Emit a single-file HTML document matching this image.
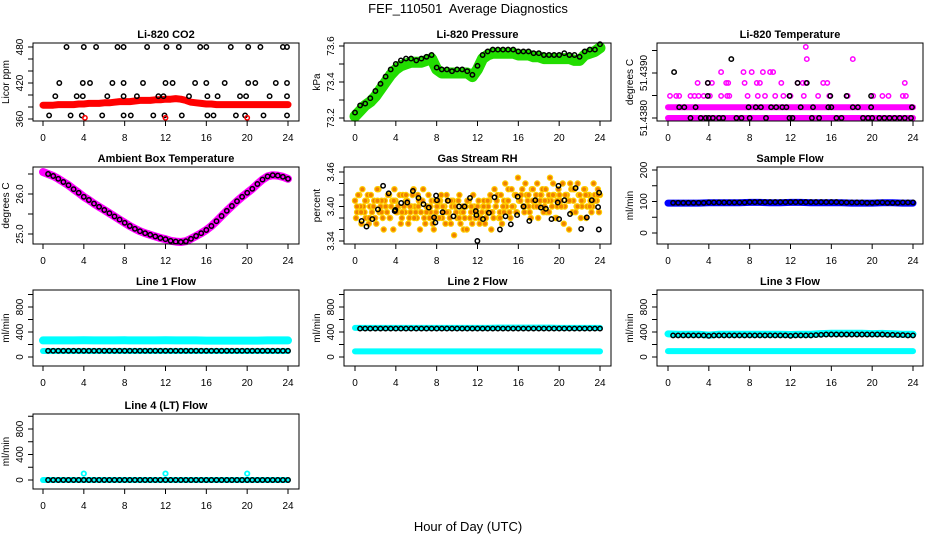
<!DOCTYPE html>
<html><head><meta charset="utf-8"><style>
html,body{margin:0;padding:0;background:#fff;}
svg{display:block;font-family:"Liberation Sans",Arial,sans-serif;}
</style></head><body>
<svg id="fig" width="936" height="540" viewBox="0 0 936 540" xmlns="http://www.w3.org/2000/svg">
<rect width="936" height="540" fill="#fff"/>
<text x="468" y="13" font-size="13" text-anchor="middle" style="white-space:pre">FEF_110501&#160; Average Diagnostics</text>
<text x="468" y="531" font-size="13" text-anchor="middle">Hour of Day (UTC)</text>
</svg>
<script>
// ---------- data ----------
const HH = [0,0.5,1,1.5,2,2.5,3,3.5,4,4.5,5,5.5,6,6.5,7,7.5,8,8.5,9,9.5,10,10.5,11,11.5,12,12.5,13,13.5,14,14.5,15,15.5,16,16.5,17,17.5,18,18.5,19,19.5,20,20.5,21,21.5,22,22.5,23,23.5,24];
const HR = [0,1,2,3,4,5,6,7,8,9,10,11,12,13,14,15,16,17,18,19,20,21,22,23,24];
const xTicks = [0,4,8,12,16,20,24];

const co2Red = [383,383,383,384,384,384,384,385,385,386,386,386,387,387,388,389,389,389,390,391,391,391,392,392,393,393,394,393,391,388,387,386,385,385,384,384,384,384,384,384,384,384,384,384,384,384,384,384,384];
const co2BlackHours = [2.3,4.0,5.2,7.3,7.9,10.2,12.1,13.3,15.4,16.0,18.4,20.1,21.3,23.5,23.9, 1.6,3.9,4.6,6.8,7.9,9.8,12.0,12.7,14.9,16.0,17.8,20.1,20.8,22.8,23.9, 1.2,3.3,3.9,6.3,7.9,9.2,11.3,11.8,14.3,16.1,17.1,19.3,19.9,22.2,23.9, 0.6,2.7,3.8,5.8,7.9,8.6,10.8,11.9,13.6,16.1,16.7,18.9,19.8,21.6,23.9];
const co2BlackVals = [480,480,480,480,480,480,480,480,480,480,480,480,480,480,480, 420,420,420,420,420,420,420,420,420,420,420,420,420,420,420, 398,398,398,398,398,398,398,398,398,398,398,398,398,398,398, 366,366,366,366,366,366,366,366,366,366,366,366,366,366,366];
const co2RedOutHours = [4.1,12.0,20.0];
const co2RedOutVals = [362,362,362];

const presGreen = [73.21,73.24,73.27,73.29,73.32,73.36,73.40,73.44,73.47,73.49,73.50,73.51,73.51,73.51,73.52,73.53,73.47,73.45,73.45,73.45,73.45,73.45,73.45,73.43,73.47,73.53,73.55,73.56,73.56,73.56,73.56,73.56,73.55,73.55,73.55,73.54,73.54,73.53,73.53,73.53,73.53,73.53,73.53,73.52,73.52,73.55,73.56,73.57,73.59];
const presBlack = [73.23,73.27,73.28,73.31,73.35,73.39,73.43,73.47,73.50,73.52,73.53,73.53,73.52,73.53,73.54,73.55,73.48,73.47,73.47,73.46,73.47,73.47,73.46,73.44,73.49,73.55,73.57,73.58,73.58,73.58,73.58,73.58,73.57,73.57,73.57,73.56,73.56,73.55,73.55,73.55,73.55,73.56,73.55,73.55,73.54,73.57,73.58,73.58,73.61];

const tLow = [51.4380,51.4380];
const tMid = [51.43824,51.43824];
const tSpan = [0,24];
const tMagHours = [0.2,0.8,1.1,2.2,2.6,3.0,3.5,4.1,5.2,5.8,6.0,7.8,8.8,9.5,10.5,11.3,12.0,13.3,14.7,15.8,17.6,20.1,21.0,21.6,23.0,23.3, 2.9,3.9,4.3,5.7,5.9,7.5,8.7,9.0,11.1,12.7,13.2,13.5,15.2,15.6,23.2, 5.2,7.4,8.2,9.3,10.0,10.3, 13.6,18.1, 13.5];
const tMagVals = [51.43849,51.43849,51.43849,51.43849,51.43849,51.43849,51.43849,51.43849,51.43849,51.43849,51.43849,51.43849,51.43849,51.43849,51.43849,51.43849,51.43849,51.43849,51.43849,51.43849,51.43849,51.43849,51.43849,51.43849,51.43849,51.43849, 51.43878,51.43878,51.43878,51.43878,51.43878,51.43878,51.43878,51.43878,51.43878,51.43878,51.43878,51.43878,51.43878,51.43878,51.43878, 51.43902,51.43902,51.43902,51.43902,51.43902,51.43902, 51.43931,51.43931, 51.43958];
const tBlackHours = [2.2,3.2,3.7,4.0,4.4,5.0,5.4,6.7,7.2,8.0,9.6,11.9,12.2,14.1,14.8,16.5,17.0,19.1,19.6,20.0,20.7,21.2,21.7,22.2,22.7,23.2,23.8, 1.1,1.6,2.7,7.9,8.6,9.1,10.1,10.6,11.2,11.6,13.0,14.2,15.7,16.0,18.1,18.6,19.9,23.9, 3.9,11.9,15.9,17.5,19.9, 3.9,12.7,13.6, 0.6, 6.2];
const tBlackVals = [51.4380,51.4380,51.4380,51.4380,51.4380,51.4380,51.4380,51.4380,51.4380,51.4380,51.4380,51.4380,51.4380,51.4380,51.4380,51.4380,51.4380,51.4380,51.4380,51.4380,51.4380,51.4380,51.4380,51.4380,51.4380,51.4380,51.4380, 51.43824,51.43824,51.43824,51.43824,51.43824,51.43824,51.43824,51.43824,51.43824,51.43824,51.43824,51.43824,51.43824,51.43824,51.43824,51.43824,51.43824,51.43824, 51.43849,51.43849,51.43849,51.43849,51.43849, 51.43878,51.43878,51.43878, 51.43902, 51.43931];

const ambTemp = [26.55,26.5,26.45,26.38,26.3,26.22,26.12,26.03,25.93,25.85,25.76,25.68,25.6,25.52,25.44,25.36,25.28,25.2,25.13,25.07,25.02,24.98,24.94,24.9,24.87,24.83,24.81,24.8,24.82,24.88,24.95,25.02,25.1,25.2,25.32,25.45,25.58,25.7,25.82,25.93,26.03,26.13,26.25,26.36,26.44,26.47,26.46,26.43,26.38];

const rhA = [3.41,3.39,3.42,3.37,3.40,3.38,3.42,3.40,3.39,3.41,3.37,3.43,3.40,3.38,3.41,3.39,3.42,3.40,3.36,3.41,3.39,3.42,3.38,3.40,3.41,3.37,3.39,3.42,3.40,3.38,3.41,3.39,3.43,3.37,3.40,3.38,3.41,3.36,3.39,3.40,3.41,3.38,3.40,3.42,3.39,3.37,3.41,3.40,3.38,3.42,3.39,3.36,3.40,3.41,3.38,3.37,3.40,3.39,3.41,3.38,3.40,3.37,3.39,3.41,3.36,3.38,3.40,3.42,3.39,3.37,3.41,3.40,3.43,3.38,3.40,3.42,3.39,3.41,3.42,3.40,3.44,3.41,3.39,3.43,3.40,3.42,3.38,3.41,3.43,3.40,3.39,3.42,3.41,3.44,3.38,3.40,3.42,3.40,3.37,3.42,3.41,3.44,3.39,3.43,3.40,3.42,3.38,3.41,3.43,3.40,3.42,3.39,3.44,3.41,3.43,3.42];
const rhB = [3.38,3.42,3.40,3.43,3.39,3.41,3.37,3.42,3.40,3.38,3.43,3.39,3.41,3.36,3.40,3.42,3.38,3.41,3.43,3.39,3.40,3.37,3.42,3.39,3.41,3.38,3.40,3.43,3.39,3.42,3.36,3.41,3.38,3.40,3.42,3.39,3.37,3.41,3.40,3.38,3.42,3.39,3.37,3.41,3.38,3.40,3.35,3.39,3.41,3.37,3.40,3.38,3.36,3.41,3.39,3.42,3.38,3.40,3.37,3.39,3.41,3.38,3.40,3.42,3.39,3.43,3.41,3.38,3.42,3.40,3.44,3.41,3.39,3.43,3.40,3.42,3.45,3.41,3.43,3.39,3.42,3.40,3.38,3.43,3.41,3.44,3.40,3.42,3.39,3.43,3.41,3.45,3.40,3.42,3.38,3.43,3.41,3.44,3.40,3.42,3.36,3.43,3.41,3.39,3.44,3.42,3.40,3.43,3.38,3.42,3.41,3.40,3.42,3.41,3.39];
const rhC = [3.40,3.39,3.41,3.38,3.40,3.41,3.39,3.40,3.38,3.41,3.40,3.39,3.42,3.40,3.38,3.40,3.41,3.39,3.40,3.38,3.41,3.40,3.39,3.41,3.40,3.38,3.39,3.41,3.40,3.39,3.38,3.40,3.41,3.39,3.40,3.38,3.39,3.41,3.40,3.39,3.41,3.40,3.42,3.41,3.40,3.42,3.41,3.39,3.42,3.41,3.40,3.42,3.41,3.43,3.40,3.41,3.42,3.40,3.41,3.42];

const rhBlackHours = [0.65,1.13,1.69,2.24,2.75,3.3,3.89,3.95,4.53,5.12,5.67,6.22,6.71,7.23,7.75,7.88,7.94,8.03,8.58,9.1,9.65,10.2,10.73,11.27,11.83,11.89,11.99,12.54,13.12,13.67,14.19,14.74,15.26,15.88,15.94,16.52,17.07,17.66,18.21,18.7,19.25,19.86,19.93,19.99,20.51,21.06,21.61,22.16,22.71,23.2,23.81,23.88,23.91];
const rhBlackVals = [3.375,3.365,3.378,3.395,3.436,3.423,3.392,3.394,3.406,3.407,3.427,3.415,3.404,3.398,3.381,3.372,3.419,3.411,3.39,3.41,3.383,3.4,3.4,3.415,3.392,3.385,3.34,3.378,3.389,3.416,3.36,3.383,3.369,3.385,3.417,3.4,3.375,3.411,3.398,3.396,3.378,3.407,3.436,3.378,3.411,3.387,3.432,3.361,3.381,3.411,3.399,3.36,3.424];

const sampleBlue = [95,95,95,95,96,96,96,96,97,97,96,96,97,97,96,96,96,96,95,95,95,96,96,95,95];
const sampleBlack = [95,96,96,96,96,96,96,96,97,97,97,97,97,97,97,97,98,98,98,98,98,98,98,98,98,98,98,98,98,98,98,98,98,98,97,97,97,97,97,96,96,97,97,96,96,96,97,97,97];

const l1Upper = [265,265,265,265,268,265,265,265,268,265,265,265,268,265,265,265,262,262,262,262,262,262,265,265,265];
const l1Lower = [96,96,96,96,96,96,96,96,96,96,96,96,96,96,96,96,96,96,96,96,96,96,96,96,96];
const l1Black = [100,100,100,100,100,100,100,100,100,100,100,100,100,100,100,100,100,100,100,100,100,100,100,100,100,100,100,100,100,100,100,100,100,100,100,100,100,100,100,100,100,100,100,100,100,100,100,100,100];

const l2Upper = [465,465,465,465,465,465,465,465,465,465,465,465,465,465,470,470,470,470,470,470,465,465,465,465,465];
const l2Lower = [90,90,90,90,90,90,90,90,90,90,90,90,90,90,90,90,90,90,90,90,90,90,90,90,90];
const l2Black = [455,455,455,455,455,455,455,455,455,455,455,455,455,455,455,455,455,455,455,455,455,455,455,455,455,455,455,455,455,455,455,455,455,455,455,455,455,455,455,455,455,455,455,455,455,455,455,455,455];

const l3Upper = [370,365,365,365,350,365,365,365,365,365,365,365,360,365,365,375,380,380,380,380,375,378,372,365,365];
const l3Lower = [95,95,95,95,95,95,95,95,95,95,95,95,95,95,95,95,95,95,95,95,95,95,95,95,95];
const l3Black = [345,345,345,345,345,345,345,345,340,345,345,345,345,345,345,345,345,345,345,345,345,345,345,345,340,345,345,345,345,350,355,360,360,360,360,360,360,360,360,360,360,360,360,355,355,350,350,345,345];

const l4Cyan = [0,0,0,0,0,0,0,0,0,0,0,0,0,0,0,0,0,0,0,0,0,0,0,0,0];
const l4Black = [0,0,0,0,0,0,0,0,0,0,0,0,0,0,0,0,0,0,0,0,0,0,0,0,0,0,0,0,0,0,0,0,0,0,0,0,0,0,0,0,0,0,0,0,0,0,0,0,0];
const l4OutHours = [4,12,20];
const l4OutVals = [100,100,100];

// ---------- layout ----------
const NS = 'http://www.w3.org/2000/svg';
const svg = document.getElementById('fig');
const COLS = [{bx0:33,bx1:299,x0:43},{bx0:344,bx1:611,x0:355},{bx0:657,bx1:923,x0:668}];
const ROWS = [{t:43,b:121},{t:167,b:244},{t:290,b:366},{t:414,b:489}];
const XW = 245;

function mk(tag, attrs, parent){
  const e = document.createElementNS(NS, tag);
  for (const k in attrs) e.setAttribute(k, attrs[k]);
  (parent||svg).appendChild(e);
  return e;
}

function panel(cfg){
  const C = COLS[cfg.col], R = ROWS[cfg.row];
  const g = mk('g', {});
  
  
  const xs = h => C.x0 + h * XW / 24;
  const ys = v => cfg.ya[1] + (v - cfg.ya[0]) * (cfg.ya[3] - cfg.ya[1]) / (cfg.ya[2] - cfg.ya[0]);
  const plot = mk('g', {}, g);
  
  
  cfg.layers.forEach(L => {
    if (L.type === 'band') {
      const pts = L.x.map((h,i) => xs(h).toFixed(1) + ',' + ys(L.y[i]).toFixed(1)).join(' ');
      const pl = mk('polyline', {points: pts, fill:'none', stroke:L.color, 'stroke-width':L.w, 'stroke-linejoin':'round', 'stroke-linecap':'round'}, plot);
      
      
    } else {
      L.x.forEach((h,i) => {
        const c = mk('circle', {cx: xs(h).toFixed(1), cy: ys(L.y[i]).toFixed(1), r: L.r||2.2, fill: L.fill||'none', stroke: L.color, 'stroke-width': L.sw||1.5}, plot);
        
        
      });
    }
  });
  const box = mk('rect', {x:C.bx0, y:R.t, width:C.bx1-C.bx0, height:R.b-R.t, fill:'none', stroke:'#000', 'stroke-width':1}, g);
  
  
  const tt = mk('text', {x:(C.bx0+C.bx1)/2, y:R.t-5, 'font-size':11, 'font-weight':'bold', 'text-anchor':'middle'}, g);
  tt.textContent = cfg.title;
  
  
  const xa = mk('g', {}, g);
  
  
  mk('line', {x1:xs(0), x2:xs(24), y1:R.b, y2:R.b, stroke:'#000'}, xa);
  xTicks.forEach(t => {
    mk('line', {x1:xs(t), x2:xs(t), y1:R.b, y2:R.b+5, stroke:'#000'}, xa);
    const tx = mk('text', {x:xs(t), y:R.b+20, 'font-size':10, 'text-anchor':'middle'}, xa);
    tx.textContent = t;
    
    
  });
  const ya = mk('g', {}, g);
  
  
  const tk = cfg.yticks;
  mk('line', {x1:C.bx0, x2:C.bx0, y1:ys(tk[0]), y2:ys(tk[tk.length-1]), stroke:'#000'}, ya);
  tk.forEach(t => {
    mk('line', {x1:C.bx0-5, x2:C.bx0, y1:ys(t), y2:ys(t), stroke:'#000'}, ya);
  });
  cfg.ylabels.forEach(lab => {
    const y = ys(lab.v), x = C.bx0 - 10;
    const tx = mk('text', {x:x, y:y, 'font-size':10, 'text-anchor':'middle', transform:`rotate(-90 ${x} ${y})`}, ya);
    tx.textContent = lab.t;
    
    
  });
  const yl = (R.t+R.b)/2, xl = C.bx0 - 24;
  const yt = mk('text', {x:xl, y:yl, 'font-size':10, 'text-anchor':'middle', transform:`rotate(-90 ${xl} ${yl})`}, g);
  yt.textContent = cfg.ylab;
  
  
}

const CY = '#00ffff';
const flowTicks = [0,200,400,600,800,1000];
const flowLabels = [{v:0,t:'0'},{v:400,t:'400'},{v:800,t:'800'}];

panel({name:'co2-panel', col:0, row:0, title:'Li-820 CO2', ylab:'Licor ppm', ya:[360,119,480,47],
  yticks:[360,380,400,420,440,460,480], ylabels:[{v:360,t:'360'},{v:420,t:'420'},{v:480,t:'480'}],
  layers:[{type:'band', name:'co2-red-series', x:HH, y:co2Red, color:'#ff0000', w:7},
          {type:'pts', name:'co2-black-point', x:co2BlackHours, y:co2BlackVals, color:'#000'},
          {type:'pts', name:'co2-red-point', x:co2RedOutHours, y:co2RedOutVals, color:'#ff0000'}]});

panel({name:'pressure-panel', col:1, row:0, title:'Li-820 Pressure', ylab:'kPa', ya:[73.2,118,73.6,46],
  yticks:[73.2,73.3,73.4,73.5,73.6], ylabels:[{v:73.2,t:'73.2'},{v:73.4,t:'73.4'},{v:73.6,t:'73.6'}],
  layers:[{type:'band', name:'pressure-green-series', x:HH, y:presGreen, color:'#22dd00', w:11},
          {type:'pts', name:'pressure-black-point', x:HH, y:presBlack, color:'#000'}]});

panel({name:'li820-temp-panel', col:2, row:0, title:'Li-820 Temperature', ylab:'degrees C', ya:[51.4380,118,51.4390,73],
  yticks:[51.4380,51.4385,51.4390,51.4395], ylabels:[{v:51.4380,t:'51.4380'},{v:51.4390,t:'51.4390'}],
  layers:[{type:'band', name:'temp-magenta-low', x:tSpan, y:tLow, color:'#ff00ff', w:6},
          {type:'band', name:'temp-magenta-mid', x:tSpan, y:tMid, color:'#ff00ff', w:6},
          {type:'pts', name:'temp-magenta-point', x:tMagHours, y:tMagVals, color:'#ff00ff'},
          {type:'pts', name:'temp-black-point', x:tBlackHours, y:tBlackVals, color:'#000'}]});

panel({name:'ambient-temp-panel', col:0, row:1, title:'Ambient Box Temperature', ylab:'degrees C', ya:[25.0,234,26.0,194],
  yticks:[25.0,25.5,26.0,26.5], ylabels:[{v:25.0,t:'25.0'},{v:26.0,t:'26.0'}],
  layers:[{type:'band', name:'ambient-magenta-series', x:HH, y:ambTemp, color:'#ff00ff', w:8},
          {type:'pts', name:'ambient-black-point', x:HH.slice(1), y:ambTemp.slice(1), color:'#000'}]});

const rhAHours = rhA.map((v,i) => i*24/(rhA.length-1));
const rhBHours = rhB.map((v,i) => 0.1 + i*23.8/(rhB.length-1));
const rhCHours = rhC.map((v,i) => 0.2 + i*23.6/(rhC.length-1));
panel({name:'rh-panel', col:1, row:1, title:'Gas Stream RH', ylab:'percent', ya:[3.34,241,3.46,172],
  yticks:[3.34,3.36,3.38,3.40,3.42,3.44,3.46], ylabels:[{v:3.34,t:'3.34'},{v:3.40,t:'3.40'},{v:3.46,t:'3.46'}],
  layers:[{type:'pts', name:'rh-orange-point', x:rhAHours, y:rhA, color:'#ffcc00', fill:'#f08000', r:2.6, sw:1.2},
          {type:'pts', name:'rh-orange-point', x:rhBHours, y:rhB, color:'#ffcc00', fill:'#f08000', r:2.6, sw:1.2},
          {type:'pts', name:'rh-orange-point', x:rhCHours, y:rhC, color:'#ffcc00', fill:'#f08000', r:2.6, sw:1.2},
          {type:'pts', name:'rh-black-point', x:rhBlackHours, y:rhBlackVals, color:'#000'}]});

panel({name:'sample-flow-panel', col:2, row:1, title:'Sample Flow', ylab:'ml/min', ya:[0,233,200,170],
  yticks:[0,50,100,150,200], ylabels:[{v:0,t:'0'},{v:100,t:'100'},{v:200,t:'200'}],
  layers:[{type:'band', name:'sample-blue-series', x:HR, y:sampleBlue, color:'#0000ff', w:7},
          {type:'pts', name:'sample-black-point', x:HH.slice(1), y:sampleBlack.slice(1), color:'#000'}]});

panel({name:'line1-flow-panel', col:0, row:2, title:'Line 1 Flow', ylab:'ml/min', ya:[0,357,800,307],
  yticks:flowTicks, ylabels:flowLabels,
  layers:[{type:'band', name:'line1-cyan-upper', x:HR, y:l1Upper, color:CY, w:8},
          {type:'band', name:'line1-cyan-lower', x:HR, y:l1Lower, color:CY, w:6},
          {type:'pts', name:'line1-black-point', x:HH.slice(1), y:l1Black.slice(1), color:'#000'}]});

panel({name:'line2-flow-panel', col:1, row:2, title:'Line 2 Flow', ylab:'ml/min', ya:[0,357,800,307],
  yticks:flowTicks, ylabels:flowLabels,
  layers:[{type:'band', name:'line2-cyan-upper', x:HR, y:l2Upper, color:CY, w:6},
          {type:'band', name:'line2-cyan-lower', x:HR, y:l2Lower, color:CY, w:6},
          {type:'pts', name:'line2-black-point', x:HH.slice(1), y:l2Black.slice(1), color:'#000'}]});

panel({name:'line3-flow-panel', col:2, row:2, title:'Line 3 Flow', ylab:'ml/min', ya:[0,357,800,307],
  yticks:flowTicks, ylabels:flowLabels,
  layers:[{type:'band', name:'line3-cyan-upper', x:HR, y:l3Upper, color:CY, w:7},
          {type:'band', name:'line3-cyan-lower', x:HR, y:l3Lower, color:CY, w:6},
          {type:'pts', name:'line3-black-point', x:HH.slice(1), y:l3Black.slice(1), color:'#000'}]});

panel({name:'line4-flow-panel', col:0, row:3, title:'Line 4 (LT) Flow', ylab:'ml/min', ya:[0,480,800,429],
  yticks:flowTicks, ylabels:flowLabels,
  layers:[{type:'band', name:'line4-cyan-series', x:HR, y:l4Cyan, color:CY, w:6},
          {type:'pts', name:'line4-black-point', x:HH.slice(1), y:l4Black.slice(1), color:'#000'},
          {type:'pts', name:'line4-cyan-point', x:l4OutHours, y:l4OutVals, color:CY, sw:1.8}]});
</script>
</body></html>
